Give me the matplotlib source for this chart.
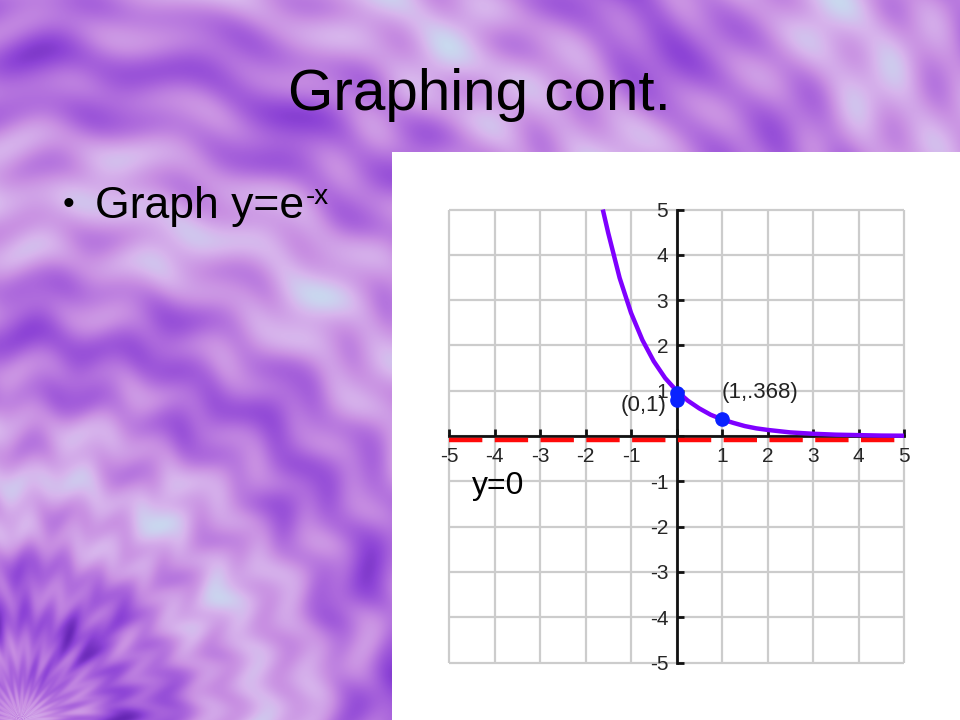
import numpy as np
import matplotlib
matplotlib.use('Agg')
import matplotlib.pyplot as plt
from matplotlib.colors import LinearSegmentedColormap
from matplotlib.patches import Rectangle
from matplotlib.transforms import offset_copy

plt.rcParams['font.family'] = ['Liberation Sans', 'DejaVu Sans']

# slide text
title = 'Graphing cont.'
bullet_text = 'Graph y=e'
bullet_sup = '-x'

# curve y=e^-x, points
curve_x = [-1.62, -1.5, -1.25, -1.0, -0.75, -0.5, -0.25, 0.0, 0.25, 0.5, 0.75,
           1.0, 1.25, 1.5, 1.75, 2.0, 2.5, 3.0, 3.5, 4.0, 4.5, 5.0]
curve_y = [5.0, 4.48, 3.49, 2.72, 2.12, 1.65, 1.28, 1.0, 0.78, 0.61, 0.47,
           0.368, 0.29, 0.22, 0.17, 0.135, 0.08, 0.05, 0.03, 0.02, 0.01, 0.007]

# marked points and their labels
point_x = [0, 0, 1]
point_y = [0.95, 0.80, 0.37]
label_text = ['(0,1)', '(1,.368)']
label_x = [-0.23, 0.99]
label_y = [0.68, 0.95]

# asymptote
asymptote_y = 0
asymptote_label = 'y=0'
asymptote_label_pos = (-4.49, -1.28)

# grid / ticks
grid_values = list(range(-5, 6))
tick_labels = ['' if v == 0 else str(v) for v in grid_values]


# tie-dye background (decoration only)
def tie_dye(w=960, h=720):
    yy, xx = np.mgrid[0:h, 0:w].astype(float)
    cx, cy = 20.0, 720.0
    r = np.hypot(xx - cx, yy - cy)
    th = np.arctan2(yy - cy, xx - cx)
    v = 0.55 * np.cos(2 * np.pi * (r - 240) / 280.0) * (0.7 + 0.3 * np.sin(th * 18 + r / 40.0))
    v += 0.20 * np.sin(r / 9.0 + 0.8 * np.sin(th * 30.0))
    v += 0.18 * np.sin((xx * 0.8 + yy) / 20.0 + 1.2 * np.sin(xx / 70.0))
    v -= 0.35 * np.exp(-((r - 100) / 60.0) ** 2) * (0.5 + 0.5 * np.cos(th * 24))
    v = (v - v.min()) / (v.max() - v.min())
    return v


cmap = LinearSegmentedColormap.from_list(
    'tiedye', ['#6526b4', '#8d44d6', '#ac68dc', '#c88fe2', '#d7b4ec', '#c9d8ef'])

fig = plt.figure(figsize=(9.6, 7.2), dpi=100)

bg = fig.add_axes([0, 0, 1, 1], zorder=-1)
bg.imshow(tie_dye(), cmap=cmap, extent=[0, 960, 720, 0], aspect='auto')
bg.add_patch(Rectangle((392, 152), 568, 568, facecolor='white', edgecolor='none'))
bg.set_xlim(0, 960)
bg.set_ylim(720, 0)
bg.axis('off')

# title and bullet
fig.text(0.499, 0.847, title, ha='center', va='baseline', fontsize=42, color='black')
fig.text(0.065, 0.703, '\u2022', ha='left', va='baseline', fontsize=24, color='black')
main = fig.text(0.099, 0.697, bullet_text, ha='left', va='baseline', fontsize=32, color='black')
bg.annotate(bullet_sup, xy=(1.0, 0.7167), xycoords=(main, 'figure fraction'),
            xytext=(1, 0), textcoords='offset points',
            ha='left', va='baseline', fontsize=20, color='black')

# graph
ax = fig.add_axes([0.4606, 0.0704, 0.4882, 0.648])
ax.patch.set_alpha(0)
ax.set_xlim(-5.15, 5.15)
ax.set_ylim(-5.15, 5.15)

ax.vlines(grid_values, -5, 5, color='#cccccc', linewidth=1.6, zorder=1)
ax.hlines(grid_values, -5, 5, color='#cccccc', linewidth=1.6, zorder=1)

for side in ['top', 'right']:
    ax.spines[side].set_visible(False)
for side in ['left', 'bottom']:
    ax.spines[side].set_position('zero')
    ax.spines[side].set_bounds(-5, 5)
    ax.spines[side].set_linewidth(2)
    ax.spines[side].set_color('#111111')

ax.set_xticks(grid_values, labels=tick_labels)
ax.set_yticks(grid_values, labels=tick_labels)
ax.tick_params(axis='both', direction='in', length=5, width=2, color='#111111',
               labelsize=15, labelcolor='#262626')
ax.tick_params(axis='x', pad=8)
ax.tick_params(axis='y', pad=6)

# dashed asymptote, a little under the axis
ax.plot([-5, 5], [asymptote_y, asymptote_y], color='#ff0a0a', linewidth=3.2,
        dashes=(7.5, 2.8), dash_capstyle='butt', zorder=3,
        transform=offset_copy(ax.transData, fig=fig, y=-2.7, units='points'))

ax.plot(curve_x, curve_y, color='#7f00ff', linewidth=3.2, zorder=4,
        solid_capstyle='butt', clip_on=False)
ax.plot(point_x, point_y, 'o', color='#0a22ff', markersize=9.5, zorder=5)

ax.text(label_x[0], label_y[0], label_text[0], ha='right', va='center',
        fontsize=16, color='#222222')
ax.text(label_x[1], label_y[1], label_text[1], ha='left', va='center',
        fontsize=16, color='#222222')
ax.text(asymptote_label_pos[0], asymptote_label_pos[1], asymptote_label,
        ha='left', va='baseline', fontsize=23, color='black')

fig.savefig('out.png', dpi=100)
